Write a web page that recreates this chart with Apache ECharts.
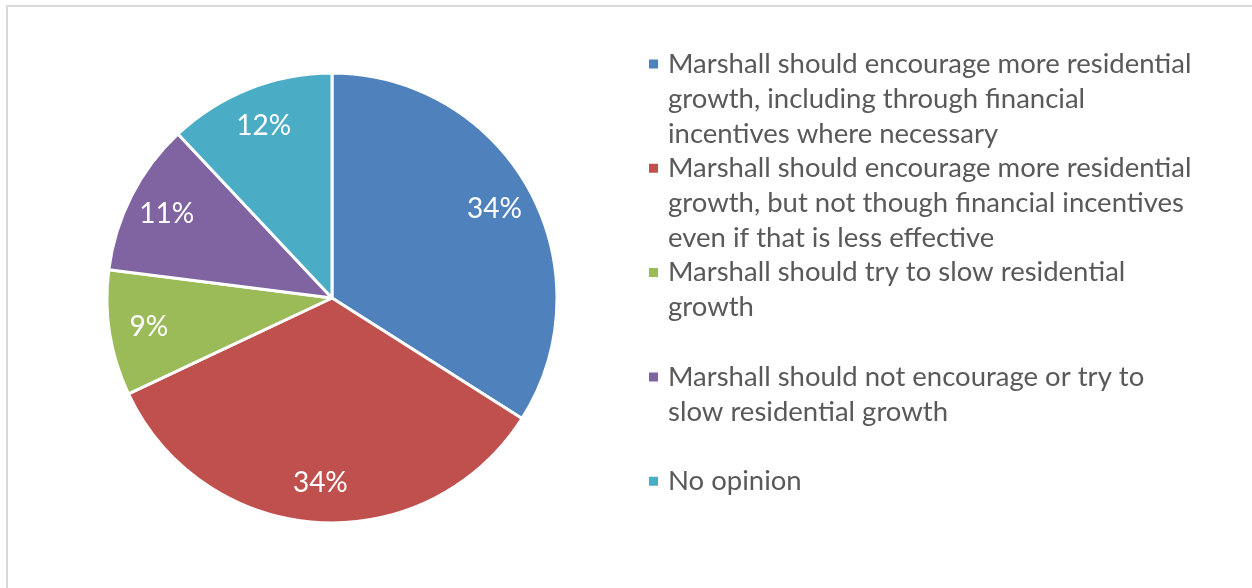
<!DOCTYPE html>
<html>
<head>
<meta charset="utf-8">
<script src="https://cdn.jsdelivr.net/npm/echarts@6/dist/echarts.min.js"></script>
<style>
  html, body { margin: 0; padding: 0; background: #ffffff; }
  #chart { width: 1252px; height: 588px; }
</style>
</head>
<body>
<div id="chart"></div>
<script>
// Survey answers on residential growth in Marshall
const categories = [
  'Marshall should encourage more residential growth, including through financial incentives where necessary',
  'Marshall should encourage more residential growth, but not though financial incentives even if that is less effective',
  'Marshall should try to slow residential growth',
  'Marshall should not encourage or try to slow residential growth',
  'No opinion'
];
const shares = [34, 34, 9, 11, 12];
const legendLines = [
  ['Marshall should encourage more residential', 'growth, including through financial', 'incentives where necessary'],
  ['Marshall should encourage more residential', 'growth, but not though financial incentives', 'even if that is less effective'],
  ['Marshall should try to slow residential', 'growth'],
  ['Marshall should not encourage or try to', 'slow residential growth'],
  ['No opinion']
];
const colors = ['#4F81BD', '#C0504D', '#9BBB59', '#8064A2', '#4BACC6'];

const FONT = 'Lato';
const LINE_H = 35;
const CENTER = [332, 298];
const RADIUS = 225;

const pieData = categories.map((name, i) => ({
  name: name,
  value: shares[i],
  itemStyle: { color: colors[i] }
}));

// One legend block per answer; the swatch sits beside the first text line,
// so blank lines are placed above to keep the swatch level with it.
const legends = categories.map((name, i) => {
  const lines = legendLines[i];
  const pad = lines.length - 1;
  const firstLineCenter = 64 + i * 104.3;
  const text = '\n'.repeat(pad) + lines.join('\n');
  return {
    show: true,
    orient: 'vertical',
    left: 647,
    top: firstLineCenter - pad * LINE_H - LINE_H / 2,
    padding: 0,
    icon: 'rect',
    itemWidth: 11,
    itemHeight: 11,
    selectedMode: false,
    data: [{ name: name, itemStyle: { color: colors[i] } }],
    formatter: () => text,
    textStyle: {
      color: '#595959',
      fontFamily: FONT,
      fontSize: 27.5,
      lineHeight: LINE_H,
      padding: [0, 0, 0, 4]
    }
  };
});

const chart = echarts.init(document.getElementById('chart'), null, { renderer: 'canvas' });
chart.setOption({
  backgroundColor: '#ffffff',
  animation: false,
  graphic: [{
    type: 'rect',
    shape: { x: 7, y: 6, width: 1300, height: 700 },
    style: { fill: 'none', stroke: '#d9d9d9', lineWidth: 2 },
    silent: true
  }],
  legend: legends,
  series: [
    {
      type: 'pie',
      center: CENTER,
      radius: [0, RADIUS],
      startAngle: 90,
      clockwise: true,
      label: { show: false },
      labelLine: { show: false },
      itemStyle: { borderColor: '#ffffff', borderWidth: 3 },
      emphasis: { disabled: true },
      data: pieData
    },
    {
      // percentage labels, set towards the rim of each slice
      type: 'pie',
      center: CENTER,
      radius: [145, 220],
      startAngle: 90,
      clockwise: true,
      silent: true,
      itemStyle: { color: 'transparent', borderWidth: 0 },
      label: {
        show: true,
        position: 'inside',
        formatter: '{c}%',
        color: '#ffffff',
        fontFamily: FONT,
        fontSize: 28
      },
      labelLine: { show: false },
      emphasis: { disabled: true },
      data: categories.map((name, i) => ({ name: name, value: shares[i] }))
    }
  ]
});
</script>
</body>
</html>
